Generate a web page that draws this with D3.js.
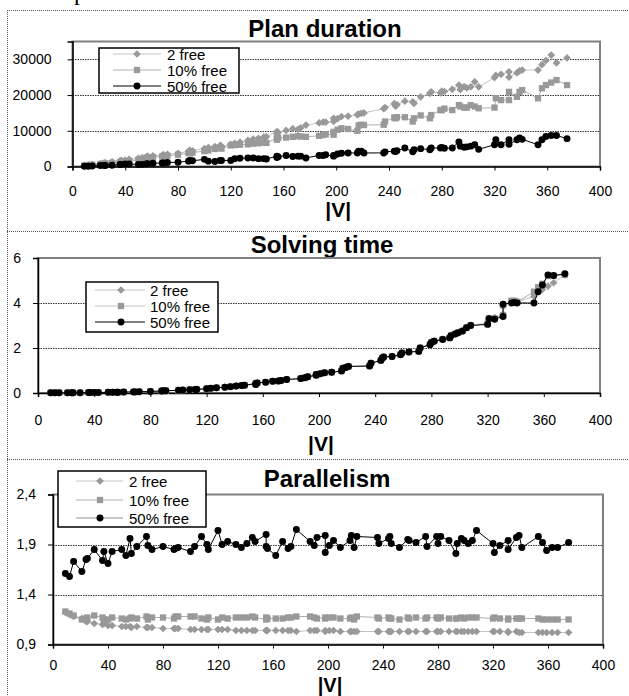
<!DOCTYPE html>
<html>
<head>
<meta charset="utf-8">
<script src="https://cdn.jsdelivr.net/npm/d3@7"></script>
<style>
  body { margin: 0; background: #fff; }
  text { font-family: Arial, "Liberation Sans", sans-serif; }
</style>
</head>
<body>
<script>
// |V| of each instance (shared by all three charts)
var vSizes = [9,12,15,21,24,25,30,36,37,40,
  43,50,53,56,57,61,68,69,72,80,
  88,89,91,100,103,108,112,113,120,123,
  127,133,137,141,145,147,155,155,156,162,
  167,171,173,177,187,190,192,198,198,201,
  204,209,216,217,219,221,236,237,244,245,
  246,252,258,259,264,271,272,279,280,282,
  288,293,294,297,299,302,305,308,320,321,
  325,331,331,337,339,341,353,356,359,363,
  367,375];

var seriesNames = ["2 free", "10% free", "50% free"];

// Plan duration
var plan2 = [300,450,600,800,1000,1050,1300,1600,1700,1800,
  2000,2300,2500,2700,2900,3000,3100,3300,3400,3700,
  4300,4500,4400,5000,5300,5600,5900,5700,6200,6500,
  6800,7300,7700,7900,8200,8300,9800,9200,9500,10100,
  10600,10400,10800,11600,12200,12400,12400,12600,13500,13400,
  14000,14100,14500,14700,14900,15000,16200,16500,17600,16900,
  17300,18300,18100,17700,19500,20500,20900,20600,21100,21000,
  21600,22800,21500,22400,22000,22300,23700,22300,24900,25500,
  25800,26500,25000,26200,26800,27000,27000,28500,29700,31200,
  29000,30400];
var plan10 = [250,400,500,700,800,850,1000,1200,1300,1400,
  1500,1900,2100,2300,2500,2600,2800,2900,3000,3300,
  3800,3700,3900,4300,4500,4900,5300,5000,5900,6000,
  6100,6200,6400,6500,6700,6600,7900,7500,8000,8100,
  8300,8500,8400,8300,8600,8800,9000,8900,9700,10300,
  10700,10500,10000,11500,11700,11600,11700,12600,13700,13500,
  13800,13800,12600,13500,14300,13500,14400,15800,15800,16200,
  15800,17200,16800,16500,16500,17200,16800,16300,16500,19100,
  18600,18600,20900,19500,20900,21400,19100,21900,22800,23500,
  24200,22800];
var plan50 = [90,90,150,280,280,300,370,560,600,740,
  700,560,600,740,800,900,1000,1000,1100,1200,
  1500,1700,1600,2000,1500,1400,1700,1700,1700,2200,
  2300,2400,2400,2200,2200,2100,2900,2500,2700,3100,
  2800,2900,2900,2400,3100,3100,3300,2900,3100,3500,
  3700,3800,3800,4300,4300,3800,3800,4100,4300,4200,
  4400,5200,4100,4700,5000,4700,5200,5200,5300,5100,
  5200,6900,5700,5400,5500,5700,6100,4800,6100,7500,
  6100,7500,6200,7500,8000,7600,6100,7500,8400,8700,
  8700,7800];

// Solving time
var solve2 = [0.01,0.01,0.01,0.01,0.01,0.01,0.01,0.02,0.02,0.02,
  0.02,0.03,0.03,0.03,0.04,0.04,0.05,0.05,0.06,0.07,
  0.09,0.1,0.11,0.12,0.13,0.15,0.16,0.17,0.19,0.21,
  0.23,0.26,0.29,0.31,0.33,0.35,0.42,0.39,0.45,0.48,
  0.52,0.54,0.56,0.6,0.65,0.69,0.72,0.8,0.83,0.87,
  0.9,0.93,0.99,1.1,1.14,1.18,1.21,1.33,1.46,1.56,
  1.6,1.63,1.72,1.79,1.83,1.87,2.02,2.17,2.26,2.32,
  2.4,2.48,2.57,2.64,2.7,2.78,2.92,3.02,3.1,3.32,
  3.35,3.5,3.85,4.05,4.08,4.05,4.3,4.55,4.6,4.75,
  4.9,5.25];
var solve10 = [0.01,0.01,0.01,0.01,0.01,0.01,0.01,0.02,0.02,0.02,
  0.02,0.03,0.03,0.03,0.03,0.04,0.05,0.05,0.06,0.07,
  0.09,0.1,0.1,0.12,0.13,0.15,0.16,0.16,0.19,0.21,
  0.23,0.26,0.28,0.31,0.33,0.34,0.42,0.38,0.45,0.48,
  0.52,0.53,0.56,0.6,0.64,0.68,0.72,0.79,0.82,0.86,
  0.9,0.92,0.98,1.1,1.13,1.18,1.2,1.32,1.45,1.55,
  1.6,1.62,1.7,1.78,1.82,1.86,2.01,2.16,2.25,2.31,
  2.39,2.46,2.56,2.63,2.69,2.76,2.91,3.01,3.08,3.31,
  3.32,3.45,3.9,4.1,4.1,4.05,4.5,4.7,4.85,5.2,
  5.2,5.25];
var solve50 = [0.01,0.01,0.01,0.01,0.01,0.01,0.01,0.02,0.02,0.02,
  0.02,0.03,0.03,0.03,0.03,0.04,0.05,0.05,0.06,0.07,
  0.09,0.1,0.1,0.12,0.13,0.15,0.16,0.16,0.19,0.21,
  0.23,0.26,0.28,0.31,0.33,0.34,0.42,0.38,0.45,0.48,
  0.52,0.53,0.56,0.6,0.64,0.68,0.72,0.79,0.82,0.86,
  0.9,0.92,0.98,1.1,1.13,1.18,1.2,1.32,1.45,1.55,
  1.6,1.62,1.7,1.78,1.82,1.85,2.0,2.15,2.25,2.3,
  2.38,2.45,2.55,2.62,2.68,2.75,2.9,3.0,3.05,3.3,
  3.28,3.4,3.95,4.0,4.02,4.0,4.0,4.5,4.8,5.25,
  5.22,5.3];

// Parallelism
var par2 = [1.22,1.20,1.18,1.16,1.13,1.13,1.11,1.10,1.11,1.09,
  1.09,1.08,1.08,1.08,1.07,1.08,1.07,1.07,1.07,1.06,
  1.06,1.06,1.06,1.05,1.05,1.05,1.05,1.05,1.05,1.05,
  1.05,1.04,1.04,1.04,1.04,1.04,1.04,1.04,1.04,1.04,
  1.04,1.04,1.04,1.03,1.04,1.04,1.04,1.03,1.04,1.04,
  1.04,1.03,1.03,1.03,1.03,1.03,1.03,1.03,1.03,1.03,
  1.03,1.03,1.03,1.03,1.03,1.03,1.03,1.03,1.03,1.03,
  1.03,1.03,1.03,1.03,1.03,1.03,1.03,1.03,1.03,1.03,
  1.03,1.03,1.02,1.03,1.02,1.02,1.02,1.02,1.02,1.02,
  1.02,1.02];
var par10 = [1.23,1.21,1.19,1.15,1.16,1.17,1.19,1.17,1.15,1.15,
  1.17,1.16,1.15,1.16,1.17,1.16,1.18,1.15,1.17,1.17,
  1.16,1.18,1.18,1.18,1.18,1.16,1.15,1.17,1.15,1.17,
  1.16,1.17,1.17,1.17,1.18,1.17,1.15,1.17,1.16,1.16,
  1.16,1.17,1.17,1.18,1.18,1.17,1.16,1.17,1.16,1.17,
  1.17,1.16,1.16,1.17,1.15,1.18,1.17,1.16,1.17,1.16,
  1.16,1.15,1.17,1.16,1.17,1.16,1.17,1.17,1.16,1.17,
  1.16,1.16,1.16,1.17,1.16,1.17,1.17,1.17,1.16,1.17,
  1.16,1.15,1.16,1.16,1.16,1.16,1.16,1.15,1.15,1.15,
  1.15,1.15];
var par50 = [1.61,1.58,1.73,1.63,1.75,1.76,1.85,1.74,1.83,1.71,
  1.83,1.85,1.79,1.96,1.81,1.88,1.98,1.89,1.85,1.88,
  1.85,1.86,1.87,1.83,1.88,1.98,1.90,1.85,2.04,1.90,
  1.93,1.90,1.87,1.91,1.97,1.93,2.00,1.88,1.86,1.79,
  1.93,1.86,1.88,2.05,1.93,1.89,1.97,1.99,1.82,1.89,
  1.94,1.87,1.94,1.99,1.87,1.98,1.97,1.91,1.96,1.98,
  1.91,1.87,1.95,1.94,1.92,1.98,1.88,1.98,1.91,1.98,
  1.94,1.81,1.91,1.96,1.94,1.91,1.94,2.04,1.91,1.82,
  1.89,1.94,1.85,1.97,1.99,1.87,1.98,1.92,1.84,1.87,
  1.87,1.92];

var xTicks = [0,40,80,120,160,200,240,280,320,360,400];
var planTicks = [0,10000,20000,30000];
var solveTicks = [0,2,4,6];
var parTicks = [0.9,1.4,1.9,2.4];

var W = 629, H = 696;
var svg = d3.select("body").append("svg")
  .attr("width", W)
  .attr("height", H);

svg.append("rect").attr("width", W).attr("height", H).attr("fill", "#fff");

// cut-off caption text above the figure (only its descender shows)
svg.append("text")
  .attr("x", 74).attr("y", 0)
  .style("font-family", "'Liberation Serif', serif")
  .style("font-size", "24px")
  .text("p");

// dotted frame of the figure
var frame = svg.append("g")
  .attr("stroke", "#555")
  .attr("stroke-width", 1)
  .attr("stroke-dasharray", "1,1");
frame.append("line").attr("x1", 7.5).attr("x2", 7.5).attr("y1", 10).attr("y2", H);
[10.5, 231.5, 459.5].forEach(function(y) {
  frame.append("line").attr("x1", 7).attr("x2", W).attr("y1", y).attr("y2", y);
});

var commaFmt = d3.formatLocale({decimal: ",", thousands: ".", grouping: [3], currency: ["", ""]}).format(".1f");

var styles = [
  {color: "#999", line: "#c4c4c4", shape: "diamond", size: 30},
  {color: "#999", line: "#b0b0b0", shape: "square", size: 40},
  {color: "#000", line: "#000", shape: "circle", size: 38}
];

function marker(g, st, x, y) {
  if (st.shape === "diamond") {
    g.append("path")
      .attr("d", d3.symbol().type(d3.symbolSquare).size(st.size)())
      .attr("transform", "translate(" + x + "," + y + ") rotate(45)")
      .attr("fill", st.color);
  } else {
    var type = st.shape === "square" ? d3.symbolSquare : d3.symbolCircle;
    g.append("path")
      .attr("d", d3.symbol().type(type).size(st.size)())
      .attr("transform", "translate(" + x + "," + y + ")")
      .attr("fill", st.color);
  }
}

function drawPanel(p) {
  var x = d3.scaleLinear().domain([0, 400]).range([p.left, p.right]);
  var y = d3.scaleLinear().domain(p.yDomain).range([p.bottom, p.top]);
  var g = svg.append("g");

  // title
  g.append("text")
    .attr("x", p.titleX).attr("y", p.titleY)
    .attr("text-anchor", "middle")
    .style("font-size", "24px").style("font-weight", "bold")
    .text(p.title);

  // plot frame
  g.append("rect")
    .attr("x", p.left).attr("y", p.top)
    .attr("width", p.right - p.left).attr("height", p.bottom - p.top)
    .attr("fill", "#fff").attr("stroke", "#808080").attr("stroke-width", 2);

  // gridlines
  g.selectAll(".grid")
    .data(p.yTicks.filter(function(t) { return t !== p.yDomain[0] && t !== p.yDomain[1]; }))
    .enter().append("line")
    .attr("x1", p.left).attr("x2", p.right)
    .attr("y1", function(d) { return Math.round(y(d)) + 0.5; })
    .attr("y2", function(d) { return Math.round(y(d)) + 0.5; })
    .attr("stroke", "#333").attr("stroke-width", 1)
    .attr("stroke-dasharray", "1.5,1");

  // axes
  var yAxis = d3.axisLeft(y).tickValues(p.yTicks).tickSize(5).tickPadding(p.yPad)
    .tickFormat(p.yFormat);
  var ya = g.append("g").attr("transform", "translate(" + p.left + ",0)").call(yAxis);
  var xAxis = d3.axisBottom(x).tickValues(xTicks).tickSize(4).tickPadding(p.xPad);
  var xa = g.append("g").attr("transform", "translate(0," + p.bottom + ")").call(xAxis);
  [ya, xa].forEach(function(a) {
    a.select(".domain").attr("stroke", "#000").attr("stroke-width", 1.5);
    a.selectAll(".tick line").attr("stroke", "#000");
    a.selectAll("text").style("font-size", "14px").style("font-family", "Arial, 'Liberation Sans', sans-serif");
  });

  // |V| label
  g.append("text")
    .attr("x", (p.left + p.right) / 2 + 2).attr("y", p.vLabelY)
    .attr("text-anchor", "middle")
    .style("font-size", p.vLabelSize + "px").style("font-weight", "bold")
    .text("|V|");

  // series
  p.series.forEach(function(vals, i) {
    var st = styles[i];
    var pts = vSizes.map(function(v, j) { return [v, vals[j]]; });
    var line = d3.line().x(function(d) { return x(d[0]); }).y(function(d) { return y(d[1]); });
    g.append("path").datum(pts)
      .attr("d", line)
      .attr("fill", "none")
      .attr("stroke", st.line)
      .attr("stroke-width", 1);
    var mg = g.append("g");
    pts.forEach(function(d) { marker(mg, st, x(d[0]), y(d[1])); });
  });

  // legend
  var L = p.legend;
  var lg = g.append("g").attr("transform", "translate(" + L.x + "," + L.y + ")");
  lg.append("rect").attr("width", L.w).attr("height", L.h)
    .attr("fill", "#fff").attr("stroke", "#000").attr("stroke-width", 1.5);
  seriesNames.forEach(function(name, i) {
    var st = styles[i];
    var ry = L.rows[i];
    lg.append("line")
      .attr("x1", L.lineX[0]).attr("x2", L.lineX[1])
      .attr("y1", ry).attr("y2", ry)
      .attr("stroke", L.lineColors[i]).attr("stroke-width", 1);
    marker(lg, st, L.markX, ry);
    lg.append("text")
      .attr("x", L.textX).attr("y", ry + 5.5)
      .style("font-size", "15px")
      .text(name);
  });
}

drawPanel({
  title: "Plan duration", titleX: 325, titleY: 37,
  left: 72.5, right: 600, top: 41.5, bottom: 166.5,
  yDomain: [0, 35000], yTicks: planTicks, yFormat: d3.format("d"), yPad: 16, xPad: 16,
  vLabelY: 217, vLabelSize: 21,
  series: [plan2, plan10, plan50],
  legend: {x: 99, y: 48, w: 140, h: 45, rows: [6, 22, 38], lineX: [14, 62], markX: 38, textX: 68,
    lineColors: ["#c4c4c4", "#b0b0b0", "#000"]}
});

drawPanel({
  title: "Solving time", titleX: 322, titleY: 253,
  left: 38, right: 600, top: 258, bottom: 393,
  yDomain: [0, 6], yTicks: solveTicks, yFormat: d3.format("d"), yPad: 12, xPad: 18,
  vLabelY: 451, vLabelSize: 21,
  series: [solve2, solve10, solve50],
  legend: {x: 86, y: 282, w: 132, h: 50, rows: [8, 24, 40], lineX: [9, 59], markX: 35, textX: 64,
    lineColors: ["#c4c4c4", "#c4c4c4", "#000"]}
});

drawPanel({
  title: "Parallelism", titleX: 327, titleY: 487,
  left: 53, right: 603, top: 494.5, bottom: 644.5,
  yDomain: [0.9, 2.4], yTicks: parTicks, yFormat: commaFmt, yPad: 12, xPad: 12,
  vLabelY: 691.5, vLabelSize: 20,
  series: [par2, par10, par50],
  legend: {x: 58, y: 471, w: 148, h: 56, rows: [10, 29, 47], lineX: [18, 65], markX: 42, textX: 71,
    lineColors: ["#c4c4c4", "#b0b0b0", "#909090"]}
});
</script>
</body>
</html>
